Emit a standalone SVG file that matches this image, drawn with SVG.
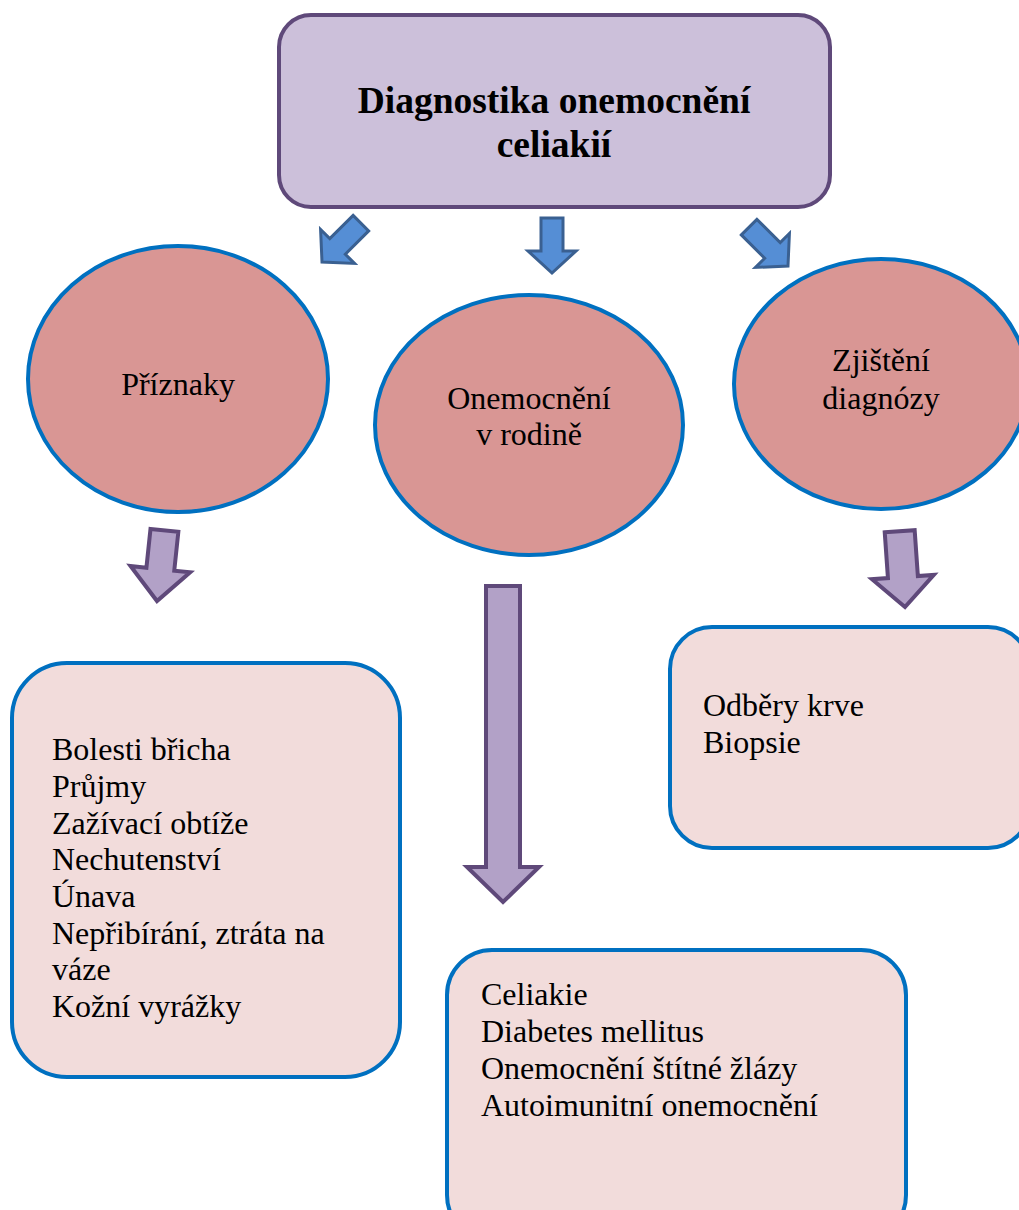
<svg xmlns="http://www.w3.org/2000/svg" width="1019" height="1210" viewBox="0 0 1019 1210">
  <style>
    text { font-family: "Liberation Serif", "Times New Roman", serif; fill: #000; }
    .title { font-size: 37.5px; font-weight: bold; text-anchor: middle; }
    .lbl { font-size: 32px; text-anchor: middle; }
    .item { font-size: 32px; }
    .circle { fill: #d99694; stroke: #0070c0; stroke-width: 4; }
    .card { fill: #f2dcdb; stroke: #0070c0; stroke-width: 4; }
    .head { fill: #ccc0da; stroke: #5f497a; stroke-width: 4; }
    .blue { fill: #558ed5; stroke: #3a6091; stroke-width: 3; stroke-linejoin: miter; }
    .purple { fill: #b2a1c7; stroke: #5f497a; stroke-width: 4; stroke-linejoin: miter; }
  </style>
  <defs>
    <!-- block arrow pointing down, origin at the tip -->
    <path id="blueArrow" d="M-11,-55 L11,-55 L11,-22 L24,-22 L0,0 L-24,-22 L-11,-22 Z"/>
  </defs>

  <rect width="1019" height="1210" fill="#fff"/>

  <g id="connectors">
    <use href="#blueArrow" class="blue" transform="translate(552,273)"/>
    <use href="#blueArrow" class="blue" transform="translate(322,262) rotate(45)"/>
    <use href="#blueArrow" class="blue" transform="translate(788,266) rotate(-45)"/>
    <path class="purple" d="M-14,-71 L14,-71 L14,-32 L30,-32 L0,0 L-30,-32 L-14,-32 Z" transform="translate(157,601) rotate(6)"/>
    <path class="purple" d="M-17,-316 L17,-316 L17,-35 L36,-35 L0,0 L-36,-35 L-17,-35 Z" transform="translate(503,902)"/>
    <path class="purple" d="M-15,-76 L15,-76 L15,-30 L31,-30 L0,0 L-31,-30 L-15,-30 Z" transform="translate(905,607) rotate(-4)"/>
  </g>

  <g id="node-title">
    <rect class="head" x="279" y="15" width="551" height="192" rx="32" ry="32"/>
    <text class="title" x="554" y="113">Diagnostika onemocnění</text>
    <text class="title" x="554" y="157">celiakií</text>
  </g>

  <g id="node-priznaky">
    <ellipse class="circle" cx="178" cy="379" rx="150" ry="133"/>
    <text class="lbl" x="178" y="395">Příznaky</text>
  </g>

  <g id="node-rodina">
    <ellipse class="circle" cx="529" cy="425" rx="154" ry="130"/>
    <text class="lbl" x="529" y="409">Onemocnění</text>
    <text class="lbl" x="529" y="445">v rodině</text>
  </g>

  <g id="node-diagnoza">
    <ellipse class="circle" cx="881" cy="384" rx="147" ry="125"/>
    <text class="lbl" x="881" y="371">Zjištění</text>
    <text class="lbl" x="881" y="409">diagnózy</text>
  </g>

  <g id="node-symptomy">
    <rect class="card" x="12" y="663" width="388" height="414" rx="55" ry="55"/>
    <text class="item" x="52" y="760">Bolesti břicha</text>
    <text class="item" x="52" y="797">Průjmy</text>
    <text class="item" x="52" y="834">Zažívací obtíže</text>
    <text class="item" x="52" y="870">Nechutenství</text>
    <text class="item" x="52" y="907">Únava</text>
    <text class="item" x="52" y="944">Nepřibírání, ztráta na</text>
    <text class="item" x="52" y="980">váze</text>
    <text class="item" x="52" y="1017">Kožní vyrážky</text>
  </g>

  <g id="node-vysetreni">
    <rect class="card" x="670" y="627" width="360" height="221" rx="42" ry="42"/>
    <text class="item" x="703" y="716">Odběry krve</text>
    <text class="item" x="703" y="753">Biopsie</text>
  </g>

  <g id="node-nemoci">
    <rect class="card" x="447" y="950" width="459" height="290" rx="45" ry="45"/>
    <text class="item" x="481" y="1005">Celiakie</text>
    <text class="item" x="481" y="1042">Diabetes mellitus</text>
    <text class="item" x="481" y="1079">Onemocnění štítné žlázy</text>
    <text class="item" x="481" y="1116">Autoimunitní onemocnění</text>
  </g>
</svg>
